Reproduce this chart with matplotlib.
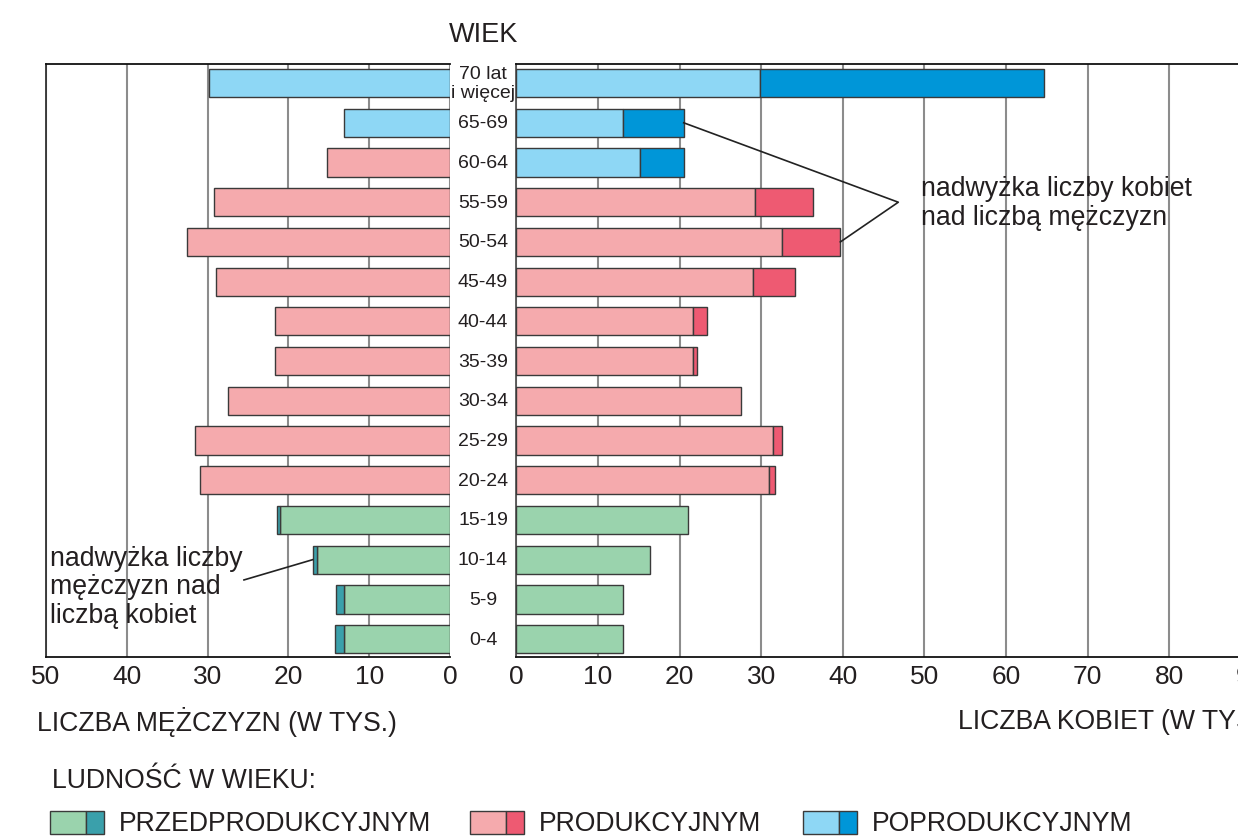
import matplotlib
matplotlib.use("Agg")
import matplotlib.pyplot as plt
from matplotlib.patches import Rectangle
from matplotlib.lines import Line2D
from matplotlib.transforms import blended_transform_factory
import numpy as np

plt.rcParams['font.family'] = ['Liberation Sans', 'DejaVu Sans']

# ---------------- data ----------------
age_groups = ["0-4", "5-9", "10-14", "15-19", "20-24", "25-29", "30-34", "35-39",
              "40-44", "45-49", "50-54", "55-59", "60-64", "65-69", "70 lat\ni więcej"]
men = [14.2, 14.1, 17.0, 21.4, 30.9, 31.5, 27.5, 21.7, 21.6, 29.0, 32.5, 29.2, 15.2, 13.1, 29.8]
women = [13.1, 13.1, 16.4, 21.0, 31.7, 32.5, 27.5, 22.1, 23.4, 34.1, 39.7, 36.4, 20.5, 20.5, 64.7]
# economic age group per sex: 0 = pre-productive, 1 = productive, 2 = post-productive
men_group = [0, 0, 0, 0, 1, 1, 1, 1, 1, 1, 1, 1, 1, 2, 2]
women_group = [0, 0, 0, 0, 1, 1, 1, 1, 1, 1, 1, 1, 2, 2, 2]
left_ticks = [50, 40, 30, 20, 10, 0]
right_ticks = [0, 10, 20, 30, 40, 50, 60, 70, 80, 90]
legend_labels = ["PRZEDPRODUKCYJNYM", "PRODUKCYJNYM", "POPRODUKCYJNYM"]

light_cols = ['#9ad3ad', '#f5aaad', '#8ed7f5']
dark_cols = ['#3aa0ab', '#ee5a72', '#0096d8']
edge = '#3a3a3a'
txt = '#231f20'
grid_col = '#8c8c8c'
FS = 19.2

W, H = 1238, 837
fig = plt.figure(figsize=(W / 100, H / 100), dpi=100)

def fx(px):
    return px / W

def fy(py):
    return 1 - py / H

axL = fig.add_axes([fx(46), fy(658), fx(404), (658 - 65) / H])
axR = fig.add_axes([fx(516.4), fy(658), 95 * 8.16 / W, (658 - 65) / H])

y = np.arange(len(age_groups))
men_a = np.array(men)
women_a = np.array(women)
base = np.minimum(men_a, women_a)
men_ex = men_a - base
women_ex = women_a - base
bh = 0.71

for ax, ex, grp in ((axL, men_ex, men_group), (axR, women_ex, women_group)):
    for i in range(len(y)):
        ax.barh(y[i], base[i], height=bh, color=light_cols[grp[i]], edgecolor=edge,
                linewidth=1.0, zorder=3)
        if ex[i] > 0.05:
            ax.barh(y[i], ex[i], left=base[i], height=bh, color=dark_cols[grp[i]],
                    edgecolor=edge, linewidth=1.0, zorder=3)
    ax.set_ylim(-0.45, 14.48)
    ax.set_yticks([])
    ax.grid(axis='x', color=grid_col, linewidth=1.5, zorder=0)
    ax.set_axisbelow(True)
    ax.tick_params(axis='x', length=0, pad=5, labelsize=19, labelcolor=txt)
    for s in ('top', 'bottom'):
        ax.spines[s].set_color('#111111')
        ax.spines[s].set_linewidth(1.3)
    ax.spines['right'].set_visible(False)

axL.set_xlim(50, 0)
axL.set_xticks(left_ticks)
axL.spines['left'].set_color('#333333')
axL.spines['left'].set_linewidth(1.3)

axR.set_xlim(0, 95)
axR.set_xticks(right_ticks)
axR.spines['left'].set_color('#555555')
axR.spines['left'].set_linewidth(1.3)

# age labels between the panels
tr = blended_transform_factory(fig.transFigure, axL.transData)
for i, lab in enumerate(age_groups):
    axL.text(fx(483), y[i], lab, transform=tr, ha='center', va='center',
             fontsize=14, color=txt, linespacing=1.1, clip_on=False)

fig.text(fx(484), fy(35), "WIEK", ha='center', va='center', fontsize=19.5, color=txt)

# axis titles
fig.text(fx(37), fy(722), "LICZBA MĘŻCZYZN (W TYS.)", ha='left', va='center',
         fontsize=FS, color=txt)
fig.text(fx(958), fy(722), "LICZBA KOBIET (W TYS.)", ha='left', va='center',
         fontsize=FS, color=txt)

# annotations: women surplus
vx, vy = 46.8, 11.0
axR.add_line(Line2D([women[13], vx, women[10]], [13, vy, 10], color='#222222',
                    linewidth=1.2, zorder=5, clip_on=False))
axR.text(49.6, 11.0, "nadwyżka liczby kobiet\nnad liczbą mężczyzn", ha='left',
         va='center', fontsize=FS, color=txt, zorder=6, linespacing=1.15)

# annotation: men surplus
axL.add_line(Line2D([25.5, men[2]], [1.49, 2.0], color='#222222', linewidth=1.2,
                    zorder=5))
axL.text(49.5, 1.33, "nadwyżka liczby\nmężczyzn nad\nliczbą kobiet", ha='left',
         va='center', fontsize=FS, color=txt, zorder=6, linespacing=1.13)

# legend
fig.text(fx(52), fy(781), "LUDNOŚĆ W WIEKU:", ha='left', va='center',
         fontsize=FS, color=txt)
leg_x = [50, 470, 803]
for k in range(3):
    x0 = leg_x[k]
    fig.add_artist(Rectangle((fx(x0), fy(835)), fx(36), (835 - 812) / H,
                             facecolor=light_cols[k], edgecolor=edge, linewidth=1.0))
    fig.add_artist(Rectangle((fx(x0 + 36), fy(835)), fx(18), (835 - 812) / H,
                             facecolor=dark_cols[k], edgecolor=edge, linewidth=1.0))
    fig.text(fx(x0 + 69), fy(824), legend_labels[k], ha='left', va='center',
             fontsize=FS, color=txt)

fig.savefig("out.png", dpi=100)
